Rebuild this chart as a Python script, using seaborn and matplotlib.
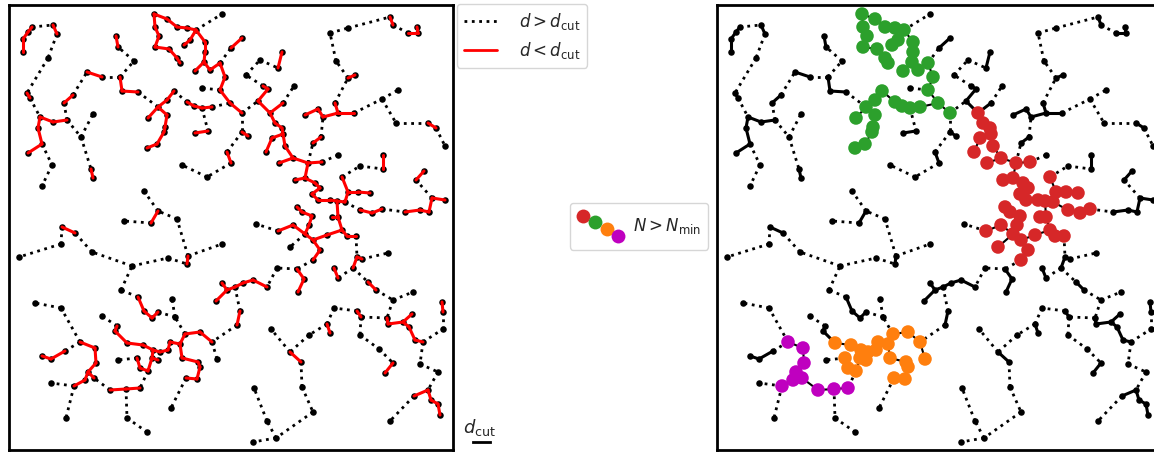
import numpy as np
import pandas as pd
import matplotlib
matplotlib.use("Agg")
import matplotlib.pyplot as plt
import seaborn as sns
from matplotlib.lines import Line2D
from matplotlib.legend_handler import HandlerBase

# point positions (box spans x 9..453, y 5..450, y downwards)
black_pts = [
    # top left
    (23, 52), (23, 39), (28, 32), (32, 27), (53, 25), (57, 34), (48, 58), (27, 93), (30, 98),
    (40, 117), (38, 128), (42, 144), (28, 153), (53, 122), (67, 120), (93, 114), (81, 137),
    (91, 169), (93, 178), (52, 165), (42, 186), (64, 103), (73, 95), (87, 72), (102, 77),
    (120, 77), (122, 91), (138, 92), (134, 61), (118, 47), (116, 36),
    (144, 191), (151, 223), (158, 211), (124, 221), (177, 219),
    # top middle
    (222, 14), (202, 88), (242, 38), (231, 48), (260, 60), (278, 68), (282, 52), (246, 75),
    (263, 86), (268, 89), (258, 101), (294, 86), (283, 103),
    (195, 133), (208, 131), (242, 132), (248, 136), (227, 152), (231, 163), (182, 165), (207, 177),
    # top right
    (330, 33), (348, 28), (390, 17), (393, 25), (408, 33), (418, 33), (417, 27),
    (336, 61), (348, 78), (355, 75), (335, 103), (338, 113), (354, 113), (323, 117), (318, 109),
    (305, 115), (382, 99), (398, 90), (396, 123), (428, 123), (436, 128), (445, 146),
    (321, 137), (313, 143), (338, 155), (360, 166), (383, 155), (383, 169), (424, 171), (416, 180),
    (432, 198), (445, 200), (429, 212), (420, 210), (405, 212),
    # bottom left
    (62, 227), (75, 233), (61, 244), (19, 257), (92, 252), (132, 266), (168, 258),
    (121, 290), (138, 297), (144, 311), (152, 318), (158, 312), (175, 317),
    (35, 303), (61, 308), (102, 316), (117, 326), (115, 331), (118, 360),
    (65, 351), (51, 359), (42, 356), (51, 383), (66, 418), (127, 418), (147, 432),
    # bottom middle
    (222, 244), (188, 256), (187, 264), (256, 224), (172, 299), (171, 408),
    (222, 283), (227, 290), (216, 301), (235, 287), (243, 283), (253, 280), (267, 287),
    (240, 311), (237, 325), (277, 268), (297, 269), (304, 279), (298, 292),
    (271, 329), (309, 335), (290, 352), (301, 362), (302, 387), (254, 388), (267, 421),
    (276, 438), (253, 442),
    # bottom right
    (357, 257), (362, 259), (353, 268), (388, 253), (334, 268), (338, 278), (368, 282),
    (376, 290), (393, 300), (413, 292), (334, 308), (327, 324), (330, 333), (357, 311),
    (361, 317), (360, 335), (379, 349), (393, 363), (385, 373), (387, 318), (388, 324),
    (403, 322), (412, 314), (409, 327), (415, 340), (423, 342), (442, 302), (443, 312),
    (443, 329), (420, 364), (438, 372), (428, 390), (414, 396), (431, 400), (438, 404),
    (440, 415), (390, 421), (313, 412),
]

red_pts = [
    (270, 113), (275, 123), (282, 128), (283, 134), (272, 138), (266, 152), (285, 146),
    (293, 158), (279, 163), (295, 180), (305, 178), (308, 163), (322, 162), (315, 183),
    (320, 188), (312, 194), (318, 200), (330, 200), (337, 201), (345, 202), (342, 177),
    (348, 192), (358, 192), (370, 193), (360, 210), (372, 213), (382, 209), (297, 207),
    (302, 212), (312, 216), (309, 225), (293, 225), (278, 231), (305, 234), (313, 240),
    (290, 247), (320, 250), (313, 260), (332, 217), (338, 217), (342, 230), (347, 236),
    (356, 236), (327, 235),
]

green_pts = [
    (154, 14), (167, 19), (177, 27), (187, 28), (196, 30), (155, 27), (159, 36), (155, 47),
    (169, 49), (177, 58), (180, 63), (190, 40), (184, 45), (205, 42), (205, 52), (204, 62),
    (210, 70), (195, 71), (220, 63), (225, 77), (220, 90), (174, 91), (167, 100), (158, 107),
    (148, 118), (167, 115), (165, 127), (164, 132), (157, 144), (147, 148), (187, 102),
    (194, 106), (202, 108), (212, 107), (230, 103), (242, 113),
]

orange_pts = [
    (127, 343), (143, 345), (153, 350), (152, 358), (137, 358), (140, 368), (148, 371),
    (160, 352), (158, 360), (168, 350), (170, 342), (180, 344), (182, 358), (198, 362),
    (200, 367), (197, 379), (186, 378), (185, 334), (200, 332), (212, 342), (217, 359),
]

magenta_pts = [
    (80, 342), (95, 348), (96, 363), (88, 372), (94, 378), (85, 380), (74, 386),
    (110, 390), (126, 389), (140, 388),
]

d_cut = 17
group_colors = {"red": "#d62728", "green": "#2ca02c", "orange": "#ff7f0e", "magenta": "#bf00bf"}

frames = [pd.DataFrame(black_pts, columns=["x", "y"]).assign(group="none")]
for name, pts in [("red", red_pts), ("green", green_pts), ("orange", orange_pts), ("magenta", magenta_pts)]:
    frames.append(pd.DataFrame(pts, columns=["x", "y"]).assign(group=name))
df = pd.concat(frames, ignore_index=True)

# minimum spanning tree (Prim)
xy = df[["x", "y"]].to_numpy(float)
n = len(xy)
dist = np.hypot(xy[:, None, 0] - xy[None, :, 0], xy[:, None, 1] - xy[None, :, 1])
in_tree = np.zeros(n, bool)
in_tree[0] = True
best = dist[0].copy()
parent = np.zeros(n, int)
edges = []
for _ in range(n - 1):
    cand = np.where(in_tree, np.inf, best)
    j = int(np.argmin(cand))
    edges.append((parent[j], j, best[j]))
    in_tree[j] = True
    upd = (dist[j] < best) & ~in_tree
    parent[upd] = j
    best = np.where(upd, dist[j], best)

sns.set_style("white")
W, H = 1154, 453
fig = plt.figure(figsize=(W / 100, H / 100), dpi=100)
ax1 = fig.add_axes([9 / W, 3 / H, 444 / W, 445 / H])
ax2 = fig.add_axes([717 / W, 3 / H, 444 / W, 445 / H])

groups = df["group"].to_numpy()

# left panel
for i, j, d in edges:
    xs, ys = xy[[i, j], 0], xy[[i, j], 1]
    if d < d_cut:
        ax1.plot(xs, ys, color="red", lw=2.2, zorder=3, solid_capstyle="round")
    else:
        ax1.plot(xs, ys, color="black", lw=2, ls=":", zorder=1)
sns.scatterplot(data=df, x="x", y="y", color="black", s=22, linewidth=0, ax=ax1, zorder=2)

# right panel
for i, j, d in edges:
    xs, ys = xy[[i, j], 0], xy[[i, j], 1]
    same = groups[i] == groups[j] and groups[i] != "none"
    if same:
        ax2.plot(xs, ys, color="black", lw=1.5, zorder=3)
    elif d < d_cut:
        ax2.plot(xs, ys, color="black", lw=2.2, zorder=2)
    else:
        ax2.plot(xs, ys, color="black", lw=2, ls=":", zorder=1)
sns.scatterplot(data=df[df.group == "none"], x="x", y="y", color="black", s=22,
                linewidth=0, ax=ax2, zorder=3)
sns.scatterplot(data=df[df.group != "none"], x="x", y="y", hue="group",
                palette=group_colors, s=95, linewidth=0, ax=ax2, zorder=4, legend=False)

for ax in (ax1, ax2):
    ax.set_xlim(9, 453)
    ax.set_ylim(450, 5)
    ax.set(xlabel="", ylabel="", xticks=[], yticks=[])
    for sp in ax.spines.values():
        sp.set_visible(True)
        sp.set_color("black")
        sp.set_linewidth(2)

# d_cut scale bar
x0 = ax1.get_xlim()[1] + 20
ax1.plot([x0, x0 + d_cut], [442, 442], color="black", lw=2, clip_on=False,
         solid_capstyle="projecting")
ax1.text(x0 - 10, 433, r"$d_{\rm cut}$", fontsize=13, ha="left", va="baseline")

# legends
h1 = [Line2D([], [], color="black", ls=":", lw=2), Line2D([], [], color="red", lw=2)]
fig.legend(h1, [r"$d > d_{\rm cut}$", r"$d < d_{\rm cut}$"], loc="upper left",
           bbox_to_anchor=(457 / W, 1 - 4 / H), borderaxespad=0, fontsize=12,
           handlelength=2.0, handletextpad=1.3)


class DotsProxy:
    pass


class DotsHandler(HandlerBase):
    def create_artists(self, legend, orig_handle, xdescent, ydescent, width, height,
                       fontsize, trans):
        arts = []
        for k, c in enumerate(group_colors.values()):
            x = -xdescent + width * (0.15 + 0.27 * k)
            y = -ydescent + height * (0.82 - 0.2 * k)
            arts.append(Line2D([x], [y], marker="o", ls="", markersize=10, color=c,
                               markeredgewidth=0, transform=trans))
        return arts


fig.legend([DotsProxy()], [r"$N > N_{\rm min}$"], loc="upper left",
           bbox_to_anchor=(570 / W, 1 - 203 / H), borderaxespad=0, fontsize=12,
           handler_map={DotsProxy: DotsHandler()}, handlelength=2.6, handleheight=2.7,
           handletextpad=0.8)

fig.savefig("out.png", dpi=100)
